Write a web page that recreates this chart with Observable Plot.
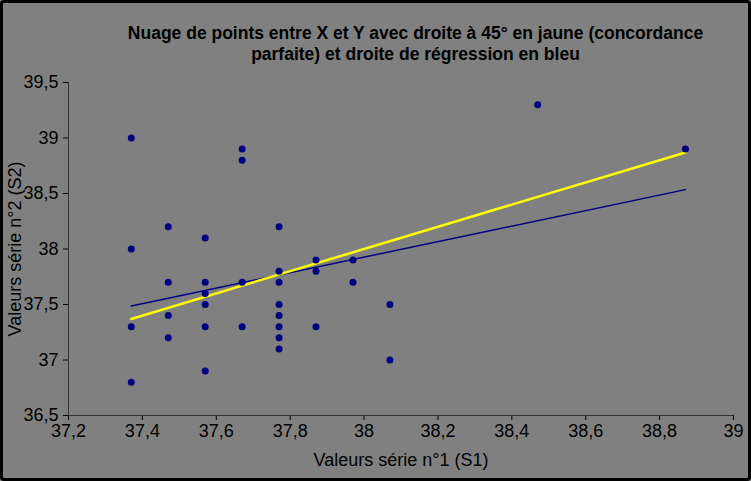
<!DOCTYPE html>
<html><head><meta charset="utf-8">
<script src="https://cdn.jsdelivr.net/npm/d3@7"></script>
<script src="https://cdn.jsdelivr.net/npm/@observablehq/plot@0.6"></script>
<style>
html,body{margin:0;padding:0;background:#808080;}
#wrap{position:relative;width:751px;height:481px;background:#808080;overflow:hidden;font-family:"Liberation Sans",Arial,sans-serif;}
#frame{position:absolute;left:0;top:0;width:745px;height:475px;border:3px solid #000;border-radius:4px;pointer-events:none;}
#title{height:70px;box-sizing:border-box;padding-top:23px;padding-left:80px;text-align:center;font-weight:bold;font-size:17.5px;line-height:21px;color:#000;}
</style></head>
<body>
<div id="wrap">
<div id="title">Nuage de points entre X et Y avec droite à 45° en jaune (concordance<br>parfaite) et droite de régression en bleu</div>
<div id="chart"></div>
<div id="frame"></div>
</div>
<script>
// Series 1 (X) values and Series 2 (Y) values
const s1 = [37.37,37.37,37.37,37.37,
  37.47,37.47,37.47,37.47,
  37.57,37.57,37.57,37.57,37.57,37.57,
  37.67,37.67,37.67,37.67,
  37.77,37.77,37.77,37.77,37.77,37.77,37.77,37.77,
  37.87,37.87,37.87,
  37.97,37.97,
  38.07,38.07,
  38.47,
  38.87];
const s2 = [39.0,38.0,37.3,36.8,
  38.2,37.7,37.4,37.2,
  38.1,37.7,37.6,37.5,37.3,36.9,
  38.9,38.8,37.7,37.3,
  38.2,37.8,37.7,37.5,37.4,37.3,37.2,37.1,
  37.9,37.8,37.3,
  37.9,37.7,
  37.5,37.0,
  39.3,
  38.9];
const xTicks = [37.2,37.4,37.6,37.8,38,38.2,38.4,38.6,38.8,39];
const xTickLabels = ["37,2","37,4","37,6","37,8","38","38,2","38,4","38,6","38,8","39"];
const yTicks = [36.5,37,37.5,38,38.5,39,39.5];
const yTickLabels = ["36,5","37","37,5","38","38,5","39","39,5"];

const points = s1.map((x,i)=>({x, y:s2[i]}));
const ext = d3.extent(s1);
const diag = ext.map(v=>({x:v, y:v}));
const font = '"Liberation Sans",Arial,sans-serif';

const chart = Plot.plot({
  width: 751,
  height: 411,
  marginTop: 12,
  marginBottom: 66,
  marginLeft: 68,
  marginRight: 18,
  style: {background:"transparent", fontFamily: font, fontSize:"18px", color:"#000"},
  x: {domain:[37.2,39], ticks: xTicks, tickFormat: d => xTickLabels[xTicks.indexOf(d)], tickSize:5, tickPadding:4, label:"Valeurs série n°1 (S1)", labelAnchor:"center", labelOffset:50, labelArrow:false},
  y: {domain:[36.5,39.5], ticks: yTicks, tickFormat: d => yTickLabels[yTicks.indexOf(d)], tickSize:5, tickPadding:5, label:"Valeurs série n°2 (S2)", labelAnchor:"center", labelOffset:60, labelArrow:false},
  marks: [
    Plot.ruleY([36.5], {stroke:"#333", strokeWidth:1}),
    Plot.ruleX([37.2], {stroke:"#333", strokeWidth:1}),
    Plot.linearRegressionY(points, {x:"x", y:"y", ci:0, stroke:"#000080", strokeWidth:1.5}),
    Plot.line(diag, {x:"x", y:"y", stroke:"#ffff00", strokeWidth:2.5}),
    Plot.dot(points, {x:"x", y:"y", r:3.5, fill:"#000080", stroke:"none"})
  ]
});
document.getElementById("chart").appendChild(chart);
</script>
</body></html>
